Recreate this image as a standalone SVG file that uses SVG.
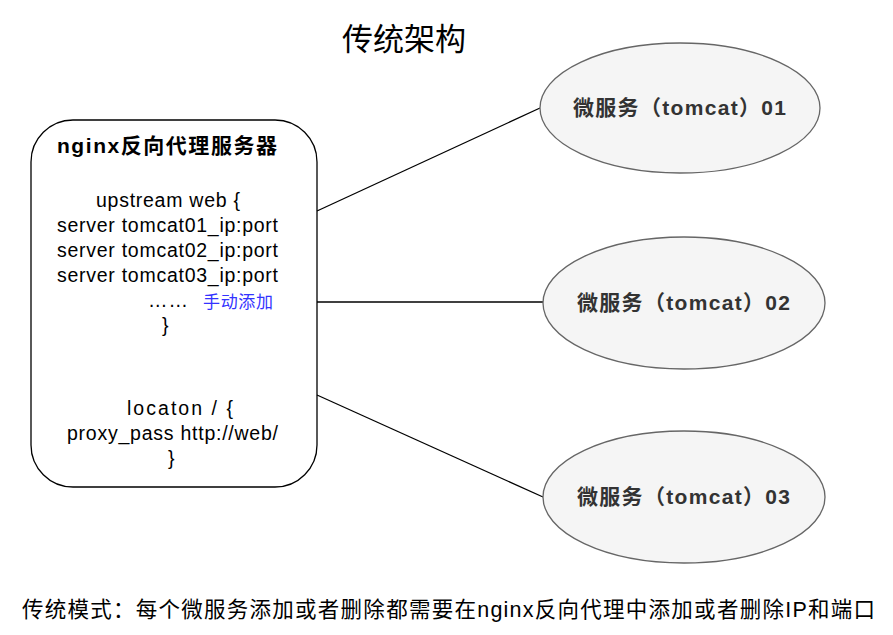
<svg xmlns="http://www.w3.org/2000/svg" width="893" height="635" viewBox="0 0 893 635">
<style>
text{font-family:"Liberation Sans","Noto Sans CJK SC",Arial,sans-serif;}
.code{font-size:19.5px;fill:#000;}
.svc ellipse{fill:#f5f5f5;stroke:#666;stroke-width:1.3;}
.svc text{font-size:21px;font-weight:bold;fill:#333;}
.conn line{stroke:#000;stroke-width:1.3;}
</style>
<rect width="893" height="635" fill="#fff"/>
<text x="342" y="50" font-size="31" textLength="124" fill="#000">传统架构</text>
<g id="nginx">
<rect x="31" y="120" width="286" height="367" rx="42" ry="42" fill="#fff" stroke="#000" stroke-width="1.3"/>
<text x="57" y="153" font-size="21" font-weight="bold" textLength="220">nginx反向代理服务器</text>
<text class="code" x="96" y="207" textLength="144">upstream web {</text>
<text class="code" x="57" y="232" textLength="221">server tomcat01_ip:port</text>
<text class="code" x="57" y="257" textLength="221">server tomcat02_ip:port</text>
<text class="code" x="57" y="282" textLength="221">server tomcat03_ip:port</text>
<text class="code" x="148" y="307" textLength="40">……</text>
<text x="203" y="308" font-size="17" fill="#3333ff" textLength="70">手动添加</text>
<text class="code" x="162" y="332">}</text>
<text class="code" x="127" y="415" textLength="106">locaton / {</text>
<text class="code" x="67" y="440" textLength="211">proxy_pass http://web/</text>
<text class="code" x="168" y="465">}</text>
</g>
<g class="conn" id="connectors">
<line x1="317" y1="211" x2="540" y2="108"/>
<line x1="317" y1="302" x2="543" y2="302"/>
<line x1="317" y1="395" x2="543" y2="497"/>
</g>
<g class="svc" id="svc01">
<ellipse cx="680" cy="108" rx="140" ry="65"/>
<text x="573" y="115" textLength="213">微服务（tomcat）01</text>
</g>
<g class="svc" id="svc02">
<ellipse cx="684" cy="303" rx="141" ry="66"/>
<text x="577" y="310" textLength="213">微服务（tomcat）02</text>
</g>
<g class="svc" id="svc03">
<ellipse cx="684" cy="497" rx="141" ry="66"/>
<text x="577" y="504" textLength="213">微服务（tomcat）03</text>
</g>
<text x="22" y="617" font-size="21.5" fill="#000" textLength="853">传统模式：每个微服务添加或者删除都需要在nginx反向代理中添加或者删除IP和端口</text>
</svg>
